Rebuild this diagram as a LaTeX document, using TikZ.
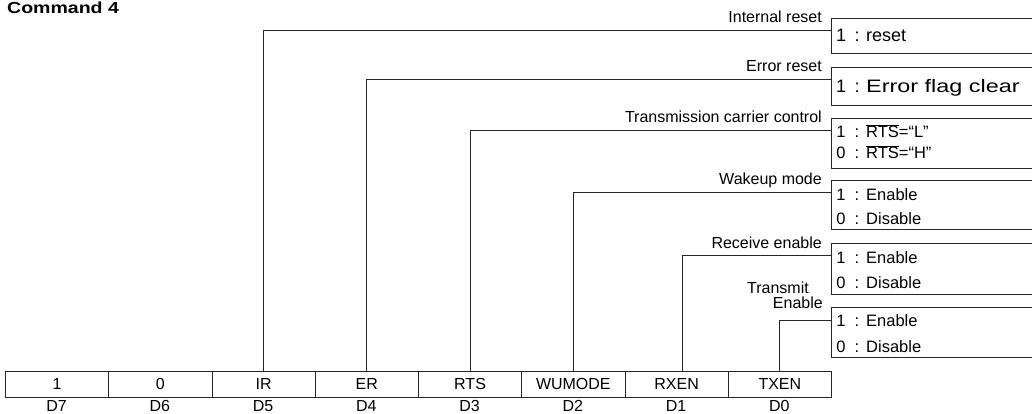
\documentclass[tikz,border=0pt]{standalone}
\usepackage{graphicx}
\usepackage{fontspec}
\setmainfont{Liberation Sans}
\newcommand{\ovl}[1]{$\overline{\mbox{#1}}$}
\begin{document}
\begin{tikzpicture}[x=1pt,y=-1pt,
  line/.style={draw=black!85, line width=0.9pt},
  cell/.style={line, minimum width=103.25pt, minimum height=26pt, inner sep=0pt,
    anchor=north west, font=\fontsize{16}{16}\selectfont},
  bitname/.style={font=\fontsize{16}{16}\selectfont, inner sep=0pt},
  fieldlbl/.style={font=\fontsize{16}{16}\selectfont, inner sep=0pt, anchor=base east},
  optbox/.style={minimum width=201pt, inner sep=0pt, anchor=north west},
  opttxt/.style={font=\fontsize{16.5}{16.5}\selectfont, inner sep=0pt},
  bigopt/.style={font=\fontsize{18}{18}\selectfont},
]
\useasboundingbox (0,0) rectangle (1032,414);

% register title
\node[anchor=base west, inner sep=0pt, font=\bfseries\fontsize{16}{16}\selectfont]
  (title) at (7,14) {\scalebox{1.22}[1]{Command 4}};

% the eight bit cells and their bit numbers
\foreach \t/\n/\d [count=\i from 0] in
  {1/c7/D7, 0/c6/D6, IR/c5/D5, ER/c4/D4, RTS/c3/D3, WUMODE/c2/D2, RXEN/c1/D1, TXEN/c0/D0} {
  \node[cell] (\n) at (5+\i*103.25, 371) {\t};
  \node[bitname, anchor=base] (\n-num) at (5+\i*103.25+51.6, 411) {\d};
}

% option boxes, open on the right
\node[optbox, minimum height=35pt] (b1) at (831,18) {};
\node[optbox, minimum height=38pt] (b2) at (831,67) {};
\node[optbox, minimum height=50pt] (b3) at (831,118) {};
\node[optbox, minimum height=49pt] (b4) at (831,180) {};
\node[optbox, minimum height=51pt] (b5) at (831,243) {};
\node[optbox, minimum height=50pt] (b6) at (831,307) {};
\foreach \b in {b1,b2,b3,b4,b5,b6}
  \draw[line] (\b.north east) -- (\b.north west) -- (\b.south west) -- (\b.south east);

% option rows: style, name, baseline, value, meaning
\newcommand{\optrow}[5][]{%
  \node[opttxt, #1, anchor=base] (#2-v) at (841,#3) {#4};
  \node[opttxt, #1, anchor=base] (#2-c) at (857,#3) {:};
  \node[opttxt, #1, anchor=base west] (#2-t) at (866,#3) {#5};}
\optrow[bigopt]{r1}{42}{1}{reset}
\optrow[bigopt]{r2}{93}{1}{\scalebox{1.3}[1]{Error flag clear}}
\optrow{r3}{138}{1}{\ovl{RTS}=``L''}
\optrow{r4}{159}{0}{\ovl{RTS}=``H''}
\optrow{r5}{200}{1}{Enable}
\optrow{r6}{224}{0}{Disable}
\optrow{r7}{263}{1}{Enable}
\optrow{r8}{288}{0}{Disable}
\optrow{r9}{326}{1}{Enable}
\optrow{r10}{352}{0}{Disable}

% points where the leaders meet the boxes
\coordinate (in1) at (831,30);
\coordinate (in2) at (831,79);
\coordinate (in3) at (831,130);
\coordinate (in4) at (831,192);
\coordinate (in5) at (831,255);
\coordinate (in6) at (831,320);

% leaders from the bits to their boxes
\draw[line] (c5.north) |- (in1);
\draw[line] (c4.north) |- (in2);
\draw[line] (c3.north) |- (in3);
\draw[line] (c2.north) |- (in4);
\draw[line] ([xshift=6pt]c1.north) |- (in5);
\draw[line] (c0.north) |- (in6);

% field names
\node[fieldlbl] (f1) at (822,23) {Internal reset};
\node[fieldlbl] (f2) at (822,72) {Error reset};
\node[fieldlbl] (f3) at (822,123) {Transmission carrier control};
\node[fieldlbl] (f4) at (822,185) {Wakeup mode};
\node[fieldlbl] (f5) at (822,248) {Receive enable};
\node[fieldlbl] (f6a) at (809,293) {Transmit};
\node[fieldlbl] (f6b) at (823,308) {Enable};
\end{tikzpicture}
\end{document}
